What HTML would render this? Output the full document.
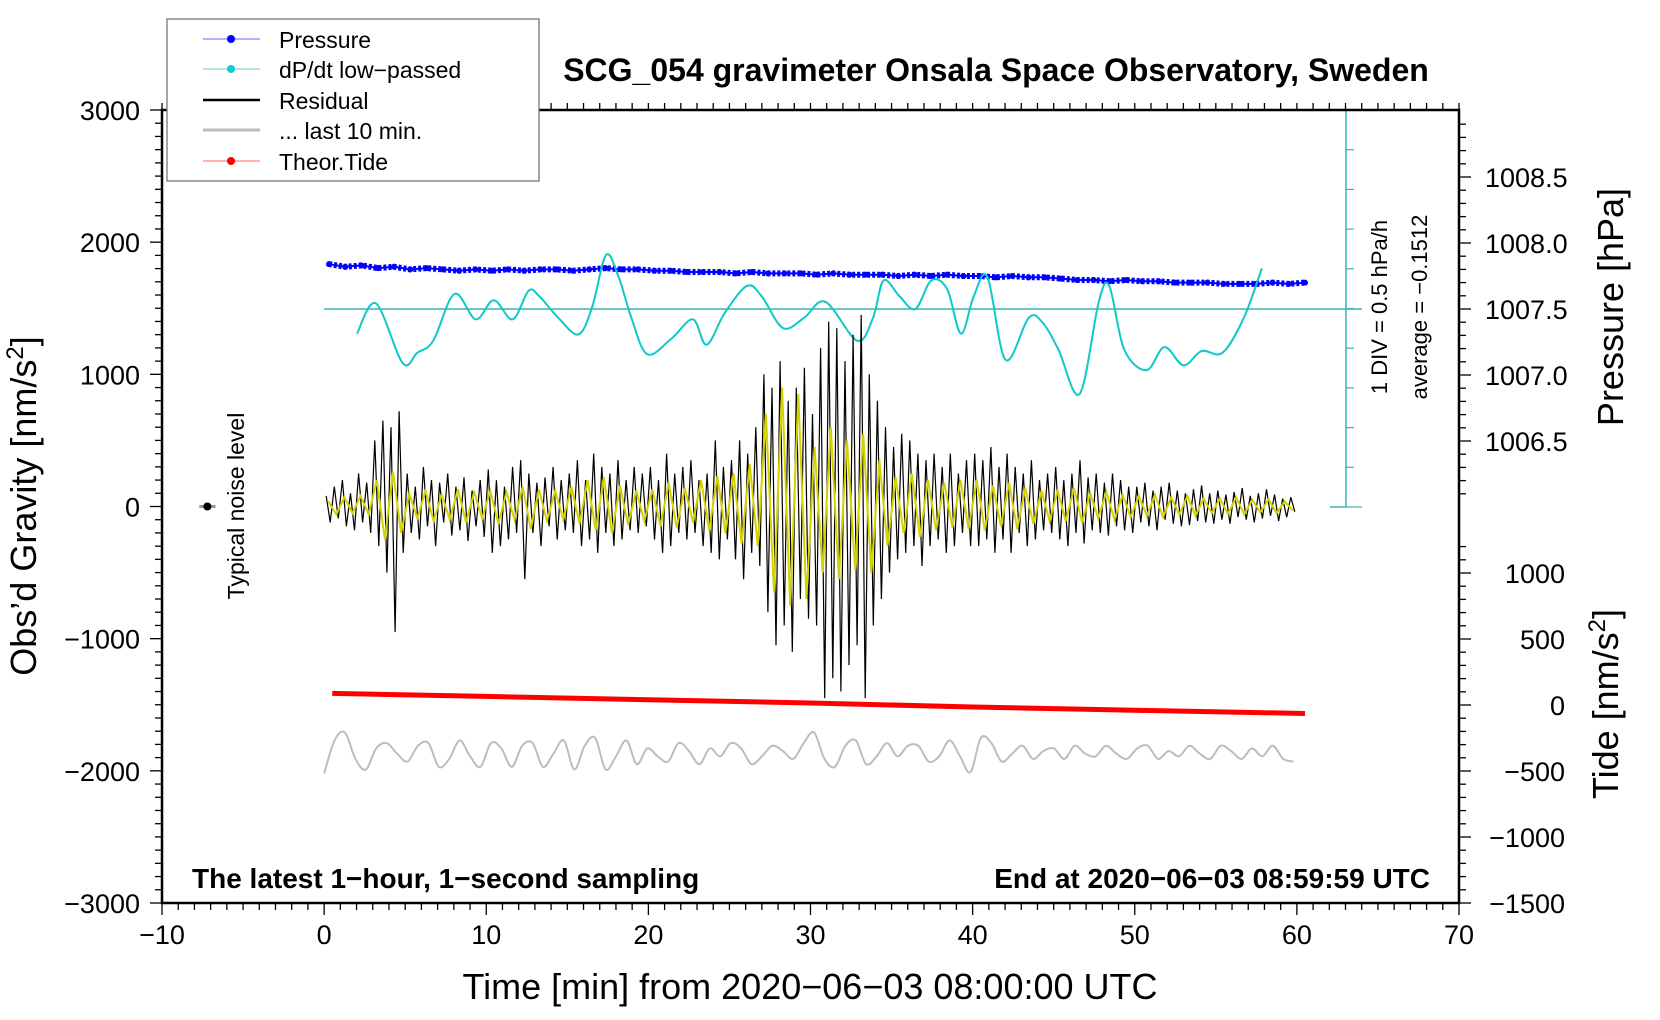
<!DOCTYPE html>
<html><head><meta charset="utf-8"><style>
html,body{margin:0;padding:0;background:#fff;}
svg{display:block;font-family:"Liberation Sans",sans-serif;}
</style></head><body>
<svg id="chart" width="1660" height="1020" viewBox="0 0 1660 1020" xmlns="http://www.w3.org/2000/svg">
<g id="marks"></g>
<g id="axes"></g>
</svg>
<script>
// ---------- data ----------
const xTicks = [-10,0,10,20,30,40,50,60,70];
const yTicks = [3000,2000,1000,0,-1000,-2000,-3000];
const pTicks = [1008.5,1008.0,1007.5,1007.0,1006.5];
const tideTicks = [1000,500,0,-500,-1000,-1500];
const pressure = [1007.84,1007.82,1007.83,1007.81,1007.82,1007.80,1007.81,1007.80,1007.79,1007.80,1007.79,1007.80,1007.79,1007.80,1007.80,1007.79,1007.80,1007.81,1007.80,1007.80,1007.79,1007.79,1007.78,1007.78,1007.78,1007.77,1007.78,1007.77,1007.77,1007.77,1007.76,1007.77,1007.76,1007.76,1007.76,1007.75,1007.76,1007.75,1007.76,1007.75,1007.75,1007.74,1007.75,1007.74,1007.74,1007.73,1007.72,1007.72,1007.71,1007.72,1007.71,1007.71,1007.70,1007.70,1007.70,1007.69,1007.69,1007.69,1007.70,1007.69,1007.70];
const dpT = [2.03,3.2,4.84,5.75,6.73,8.04,9.35,10.46,11.63,12.61,13.27,14.44,15.69,16.54,17.39,18.17,18.95,19.93,21.44,22.75,23.59,24.71,26.08,26.99,28.3,29.61,30.92,32.88,33.86,34.51,35.49,36.47,37.45,38.43,39.28,40.07,40.92,42.03,43.46,44.31,45.29,46.6,47.78,48.43,49.35,50.72,51.83,53.0,54.12,55.42,56.73,57.84];
const dpV = [-0.31,0.07,-0.68,-0.55,-0.40,0.19,-0.13,0.11,-0.13,0.23,0.16,-0.11,-0.32,0.03,0.68,0.40,-0.11,-0.57,-0.37,-0.13,-0.45,-0.05,0.29,0.16,-0.24,-0.11,0.09,-0.40,-0.11,0.36,0.16,0,0.36,0.25,-0.31,0.16,0.40,-0.64,-0.11,-0.17,-0.51,-1.07,0.09,0.29,-0.51,-0.77,-0.48,-0.71,-0.53,-0.55,-0.11,0.51];
const segStart = [0,3,5,10,15,20,25,27,30,35,40,45,50,55];
const segEnd   = [3,5,10,15,20,25,27,30,35,40,45,50,55,60];
const residualSegs = [
 [80,-120,150,-90,200,-150,100,-180,250,-120,180,-200],
 [500,-300,650,-500,600,-950,720,-350],
 [250,-200,150,-250,300,-150,200,-300,180,-120,250,-220,150,-180,220,-260,120,-150,200,-230],
 [280,-350,200,-300,150,-250,300,-200,350,-550,250,-200,180,-300,220,-150,300,-250,200,-180],
 [250,-200,350,-300,200,-250,400,-350,300,-200,250,-300,350,-250,200,-180,300,-200,250,-150],
 [300,-250,200,-350,400,-300,250,-200,300,-250,350,-200,200,-300,250,-350,500,-400,300,-250],
 [350,-400,500,-550,400,-350,600,-450],
 [1000,-800,900,-1050,1100,-900,800,-1100,900,-700,1050,-850],
 [700,-900,1200,-1450,1400,-1300,1350,-1400,1100,-1200,1300,-1050,1450,-1450,1000,-900,800,-700,600,-500],
 [450,-400,550,-350,500,-300,400,-450,350,-300,400,-250,300,-350,400,-300,250,-200,350,-300],
 [400,-300,350,-250,450,-350,300,-250,400,-350,300,-200,250,-300,350,-250,200,-180,250,-200],
 [300,-250,200,-300,250,-200,350,-280,220,-180,250,-200,180,-220,250,-150,200,-180,150,-200],
 [150,-120,180,-150,120,-180,150,-100,180,-130,120,-150,100,-140,130,-110,160,-120,100,-130],
 [120,-100,90,-130,110,-80,140,-100,80,-120,100,-90,130,-70,90,-110,60,-80,70,-40]
];
const filteredSegs = [
 [40,-60,70,-50,80,-60],
 [200,-250,260,-200],
 [100,-90,120,-110,90,-100,130,-120,110,-90],
 [120,-130,110,-100,150,-170,130,-110,120,-100],
 [150,-130,200,-180,220,-200,160,-140,120,-110],
 [130,-150,180,-160,140,-120,200,-180,230,-200],
 [250,-280,320,-300],
 [700,-650,900,-750,850,-700],
 [450,-500,600,-550,500,-480,550,-500,350,-300],
 [220,-200,250,-230,200,-180,180,-160,200,-170],
 [200,-180,160,-150,180,-170,140,-130,120,-110],
 [120,-110,140,-120,100,-90,110,-100,90,-80],
 [80,-70,90,-80,70,-60,80,-70,60,-50],
 [60,-55,70,-60,50,-45,55,-50,40,-30]
];
const tideT = [0.5,10,20,30,40,50,60.5];
const tideV = [88,65,40,15,-15,-40,-64];
const last10 = [-170,80,140,-60,-140,20,60,-20,-80,40,60,-120,-60,80,-40,-120,60,20,-120,40,60,-120,-20,80,-140,40,100,-140,-40,80,-100,20,-40,-80,60,0,-100,20,-40,60,20,-100,-40,40,0,-60,60,140,-60,-120,40,80,-100,-40,60,-40,40,40,-80,-40,80,-40,-160,100,60,-80,-20,40,-60,0,20,-60,40,-20,-40,40,-20,-60,20,40,-60,0,-40,40,-20,-60,40,0,-60,20,-40,40,-60,-80];

// ---------- scales ----------
const L=162,R=1459,T=110,B=903;
const X=t=>L+(t+10)*(R-L)/80;
const Y=g=>T+(3000-g)*(B-T)/6000;
const YP=p=>177+(1008.5-p)*132;
const YT=v=>573+(1000-v)*(903-573)/2500;
const YD=v=>309-v*39.7/0.5;
const NS="http://www.w3.org/2000/svg";
const marks=document.getElementById('marks'), axes=document.getElementById('axes');
function el(tag,attrs,parent,text){const e=document.createElementNS(NS,tag);for(const k in attrs)e.setAttribute(k,attrs[k]);if(text!==undefined)e.textContent=text;(parent||marks).appendChild(e);return e;}
function smooth(pts){let d='M'+pts[0][0]+','+pts[0][1];
for(let i=0;i<pts.length-1;i++){const p0=pts[Math.max(0,i-1)],p1=pts[i],p2=pts[i+1],p3=pts[Math.min(pts.length-1,i+2)];
d+=`C${p1[0]+(p2[0]-p0[0])/6},${p1[1]+(p2[1]-p0[1])/6} ${p2[0]-(p3[0]-p1[0])/6},${p2[1]-(p3[1]-p1[1])/6} ${p2[0]},${p2[1]}`;}return d;}

// dP/dt reference axis
let cy=el('line',{x1:1346,y1:T,x2:1346,y2:507,stroke:'#3cb4b4','stroke-width':1.5});


for(let i=0;i<=10;i++){const yy=T+i*(507-T)/10;el('line',{x1:1346,y1:yy,x2:i==0||i==10?1362:1354,y2:yy,stroke:'#3cb4b4','stroke-width':1.2});}
el('line',{x1:1330,y1:507,x2:1346,y2:507,stroke:'#3cb4b4','stroke-width':1.5});
let zl=el('line',{x1:X(0),y1:309,x2:1362,y2:309,stroke:'#3cb4b4','stroke-width':1.5});



// pressure
let pg=el('g',{});


let pp='';pressure.forEach((p,i)=>{pp+=(i?'L':'M')+X(0.3+i*(60.2/ (pressure.length-1))).toFixed(1)+','+YP(p).toFixed(1);});
el('path',{d:pp,stroke:'#0000ff',fill:'none','stroke-width':6,'stroke-dasharray':'3 2'},pg);
el('path',{d:pp,stroke:'#0000ff',fill:'none','stroke-width':2},pg);
pressure.forEach((p,i)=>{el('circle',{cx:X(0.3+i*60.2/(pressure.length-1)),cy:YP(p),r:3,fill:'#0000ff'},pg);});

// dP/dt curve (smoothed)
let dg=el('g',{});


el('path',{d:smooth(dpT.map((t,i)=>[X(t),YD(dpV[i])])),stroke:'#10c8c8',fill:'none','stroke-width':2},dg);

// residual / filtered
function segPath(segs){let d='';segs.forEach((vals,s)=>{vals.forEach((v,i)=>{const t=segStart[s]+(i+0.5)*(segEnd[s]-segStart[s])/vals.length;d+=(d?'L':'M')+X(t).toFixed(1)+','+Y(v).toFixed(1);});});return d;}
let rp=el('path',{d:segPath(residualSegs),stroke:'#000',fill:'none','stroke-width':1.2});


let fp=el('path',{d:segPath(filteredSegs),stroke:'#d2d200',fill:'none','stroke-width':2});



// tide
let td='';tideT.forEach((t,i)=>{td+=(i?'L':'M')+X(t)+','+YT(tideV[i]);});
let tp=el('path',{d:td,stroke:'#ff0000',fill:'none','stroke-width':5});



// last 10 min
{let pts=last10.map((v,i)=>[X(i*59.8/(last10.length-1)),Y(-1850+v)]);
let s=el('path',{d:smooth(pts),stroke:'#bdbdbd',fill:'none','stroke-width':2});

}

// noise dot
el('line',{x1:X(-7.7),y1:Y(0),x2:X(-6.7),y2:Y(0),stroke:'#999','stroke-width':3});
let nd=el('circle',{cx:X(-7.2),cy:Y(0),r:4,fill:'#000'});



// axes frame
let fr=el('rect',{x:L,y:T,width:R-L,height:B-T,fill:'none',stroke:'#000','stroke-width':2.5},axes);


for(let t=-10;t<=70;t++){const big=t%10==0;el('line',{x1:X(t),y1:B,x2:X(t),y2:B+(big?12:7),stroke:'#000','stroke-width':1.3},axes);el('line',{x1:X(t),y1:T,x2:X(t),y2:T-7,stroke:'#000','stroke-width':1.3},axes);}
xTicks.forEach(t=>{const e=el('text',{x:X(t),y:944,'text-anchor':'middle','font-size':27},axes,String(t).replace('-','\u2212'));});
for(let g=-3000;g<=3000;g+=100){const big=g%1000==0;el('line',{x1:L,y1:Y(g),x2:L-(big?12:7),y2:Y(g),stroke:'#000','stroke-width':1.3},axes);}
yTicks.forEach(g=>{const e=el('text',{x:140,y:Y(g)+10,'text-anchor':'end','font-size':27},axes,String(g).replace('-','\u2212'));});
for(let p=1006.1;p<=1008.95;p+=0.1){const y=YP(p);if(y<T||y>505)continue;const big=Math.abs(p*2-Math.round(p*2))<0.01;el('line',{x1:R,y1:y,x2:R+(big?12:7),y2:y,stroke:'#000','stroke-width':1.3},axes);}
pTicks.forEach(p=>{const e=el('text',{x:1485,y:YP(p)+10,'font-size':27},axes,p.toFixed(1));});
for(let v=-1500;v<=1200;v+=100){const y=YT(v);if(y<510||y>B)continue;const big=v%500==0;el('line',{x1:R,y1:y,x2:R+(big?12:7),y2:y,stroke:'#000','stroke-width':1.3},axes);}
tideTicks.forEach(v=>{const e=el('text',{x:1565,y:YT(v)+10,'text-anchor':'end','font-size':27},axes,String(v).replace('-','\u2212'));});
</script>
<div style="position:absolute;left:0;top:0;width:1660px;height:1020px;pointer-events:none">
<svg width="1660" height="1020" style="font-family:'Liberation Sans',sans-serif">
<text x="996" y="81" text-anchor="middle" font-size="32" font-weight="bold">SCG_054 gravimeter Onsala Space Observatory, Sweden</text>
<text x="810" y="999" text-anchor="middle" font-size="36">Time [min] from 2020−06−03 08:00:00 UTC</text>
<text transform="translate(36,506) rotate(-90)" text-anchor="middle" font-size="36">Obs’d Gravity [nm/s<tspan baseline-shift="super" font-size="24">2</tspan>]</text>
<text transform="translate(1623,307) rotate(-90)" text-anchor="middle" font-size="36">Pressure [hPa]</text>
<text transform="translate(1618,704) rotate(-90)" text-anchor="middle" font-size="36">Tide [nm/s<tspan baseline-shift="super" font-size="24">2</tspan>]</text>
<text transform="translate(244,506) rotate(-90)" text-anchor="middle" font-size="23">Typical noise level</text>
<text transform="translate(1387,307) rotate(-90)" text-anchor="middle" font-size="22">1 DIV = 0.5 hPa/h</text>
<text transform="translate(1427,307) rotate(-90)" text-anchor="middle" font-size="22">average = −0.1512</text>
<text x="192" y="888" font-size="28" font-weight="bold">The latest 1−hour, 1−second sampling</text>
<text x="1430" y="888" text-anchor="end" font-size="28" font-weight="bold">End at 2020−06−03 08:59:59 UTC</text>
<g font-size="23">
<rect x="167" y="19" width="372" height="162" fill="#fff" stroke="#777" stroke-width="1.3"/>
<g><line x1="203" y1="39" x2="260" y2="39" stroke="#66f"/><circle cx="231" cy="39" r="4" fill="#00f"/><text x="279" y="48">Pressure</text></g>
<g><line x1="203" y1="69" x2="260" y2="69" stroke="#6cc"/><circle cx="231" cy="69" r="4" fill="#1cc"/><text x="279" y="78">dP/dt low−passed</text></g>
<g><line x1="203" y1="100" x2="260" y2="100" stroke="#000" stroke-width="2.5"/><text x="279" y="109">Residual</text></g>
<g><line x1="203" y1="130" x2="260" y2="130" stroke="#bdbdbd" stroke-width="3"/><text x="279" y="139">... last 10 min.</text></g>
<g><line x1="203" y1="161" x2="260" y2="161" stroke="#f66"/><circle cx="231" cy="161" r="4" fill="#f00"/><text x="279" y="170">Theor.Tide</text></g>
</g>
</svg></div>
</body></html>
